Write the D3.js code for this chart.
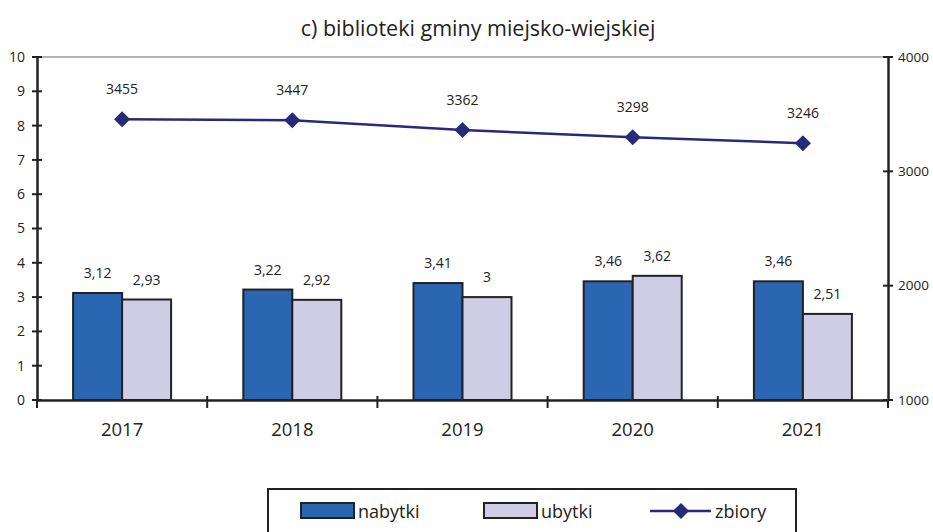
<!DOCTYPE html>
<html><head><meta charset="utf-8">
<script src="https://cdn.jsdelivr.net/npm/d3@7"></script>
<style>body{margin:0;background:#fff;}svg{display:block;font-family:"Open Sans",sans-serif;}</style>
</head><body><svg id="c" width="933" height="532"></svg>
<script>
const years = ["2017","2018","2019","2020","2021"];
const nabytki = [3.12, 3.22, 3.41, 3.46, 3.46];
const ubytki = [2.93, 2.92, 3, 3.62, 2.51];
const zbiory = [3455, 3447, 3362, 3298, 3246];
const leftTicks = [0,1,2,3,4,5,6,7,8,9,10];
const rightTicks = [1000,2000,3000,4000];
const title = "c) biblioteki gminy miejsko-wiejskiej";

const svg = d3.select("#c");
const L=37, R=888, T=57, B=400;
const x = d3.scaleBand().domain(years).range([L,R]);
const yL = d3.scaleLinear().domain([0,10]).range([B,T]);
const yR = d3.scaleLinear().domain([1000,4000]).range([B,T]);
const fmt = v => String(v).replace(".", ",");
const bw = 49;

svg.append("text").attr("x",478).attr("y",36).attr("text-anchor","middle")
  .attr("font-size",21.5).attr("fill","#222").text(title);

svg.append("line").attr("x1",L).attr("x2",R).attr("y1",T).attr("y2",T).attr("stroke","#9a9a9a").attr("stroke-width",1.5);

const g = svg.append("g");
years.forEach((yr,i)=>{
  const c = x(yr)+x.bandwidth()/2;
  g.append("rect").attr("x",c-bw).attr("y",yL(nabytki[i])).attr("width",bw).attr("height",B-yL(nabytki[i]))
    .attr("fill","#2a66b1").attr("stroke","#222").attr("stroke-width",2);
  g.append("rect").attr("x",c).attr("y",yL(ubytki[i])).attr("width",bw).attr("height",B-yL(ubytki[i]))
    .attr("fill","#cfcce6").attr("stroke","#222").attr("stroke-width",2);
  g.append("text").attr("x",c-bw/2).attr("y",yL(nabytki[i])-15).attr("text-anchor","middle").attr("font-size",14).attr("fill","#222").text(fmt(nabytki[i]));
  g.append("text").attr("x",c+bw/2).attr("y",yL(ubytki[i])-15).attr("text-anchor","middle").attr("font-size",14).attr("fill","#222").text(fmt(ubytki[i]));
});

const line = d3.line().x((d,i)=>x(years[i])+x.bandwidth()/2).y(d=>yR(d));
svg.append("path").datum(zbiory).attr("d",line).attr("fill","none").attr("stroke","#262b78").attr("stroke-width",2.5);
const dia = d3.symbol().type(d3.symbolSquare).size(130);
zbiory.forEach((v,i)=>{
  const cx = x(years[i])+x.bandwidth()/2, cy=yR(v);
  svg.append("path").attr("d",dia).attr("transform",`translate(${cx},${cy}) rotate(45)`).attr("fill","#262b78");
  svg.append("text").attr("x",cx).attr("y",cy-25).attr("text-anchor","middle").attr("font-size",14).attr("fill","#222").text(v);
});

const axL = svg.append("g").attr("transform",`translate(${L},0)`).call(d3.axisLeft(yL).tickValues(leftTicks).tickSize(0).tickPadding(12));
axL.select(".domain").attr("stroke","#222").attr("stroke-width",2.5);
axL.selectAll("text").attr("font-size",14).attr("fill","#222").attr("font-family","Open Sans");
leftTicks.forEach(t=>svg.append("line").attr("x1",L-5).attr("x2",L+5).attr("y1",yL(t)).attr("y2",yL(t)).attr("stroke","#222").attr("stroke-width",2));

const axR = svg.append("g").attr("transform",`translate(${R},0)`).call(d3.axisRight(yR).tickValues(rightTicks).tickFormat(d3.format("d")).tickSize(0).tickPadding(10));
axR.select(".domain").attr("stroke","#222").attr("stroke-width",2.5);
axR.selectAll("text").attr("font-size",13.5).attr("fill","#222").attr("font-family","Open Sans");
rightTicks.forEach(t=>svg.append("line").attr("x1",R-5).attr("x2",R+5).attr("y1",yR(t)).attr("y2",yR(t)).attr("stroke","#222").attr("stroke-width",2));

const axB = svg.append("g").attr("transform",`translate(0,${B})`).call(d3.axisBottom(x).tickSize(0).tickPadding(23));
axB.select(".domain").attr("stroke","#222").attr("stroke-width",2.5);
axB.selectAll("text").attr("font-size",18.5).attr("fill","#222").attr("font-family","Open Sans");
years.forEach((yr,i)=>{ if(i>0){ const xx=x(yr); svg.append("line").attr("x1",xx).attr("x2",xx).attr("y1",B-4).attr("y2",B+8).attr("stroke","#222").attr("stroke-width",2);} });
svg.append("line").attr("x1",L).attr("x2",L).attr("y1",B).attr("y2",B+8).attr("stroke","#222").attr("stroke-width",2);
svg.append("line").attr("x1",R).attr("x2",R).attr("y1",B).attr("y2",B+8).attr("stroke","#222").attr("stroke-width",2);

const lg = svg.append("g");
lg.append("rect").attr("x",268).attr("y",489).attr("width",528).attr("height",60).attr("fill","#fff").attr("stroke","#222").attr("stroke-width",2);
lg.append("rect").attr("x",301).attr("y",503).attr("width",53).attr("height",15).attr("fill","#2a66b1").attr("stroke","#222").attr("stroke-width",2);
lg.append("text").attr("x",358).attr("y",518).attr("font-size",18).attr("fill","#222").text("nabytki");
lg.append("rect").attr("x",484).attr("y",503).attr("width",53).attr("height",15).attr("fill","#cfcce6").attr("stroke","#222").attr("stroke-width",2);
lg.append("text").attr("x",541).attr("y",518).attr("font-size",18).attr("fill","#222").text("ubytki");
lg.append("line").attr("x1",650).attr("x2",711).attr("y1",511).attr("y2",511).attr("stroke","#262b78").attr("stroke-width",2.5);
lg.append("path").attr("d",dia).attr("transform","translate(681,511) rotate(45)").attr("fill","#262b78");
lg.append("text").attr("x",715).attr("y",518).attr("font-size",18).attr("fill","#222").text("zbiory");
</script></body></html>
